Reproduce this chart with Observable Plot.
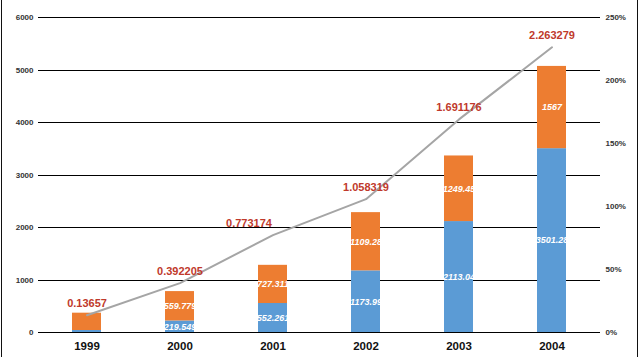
<!DOCTYPE html>
<html>
<head>
<meta charset="utf-8">
<script src="https://cdn.jsdelivr.net/npm/d3@7"></script>
<script src="https://cdn.jsdelivr.net/npm/@observablehq/plot@0.6"></script>
<style>
  body { margin: 0; background: #fff; }
  #wrap { position: relative; width: 640px; height: 357px; }
  #edge { position: absolute; left: 1px; top: 0; width: 635px; height: 357px; border-left: 1.5px solid #111; border-right: 1.5px solid #111; pointer-events: none; }
</style>
</head>
<body>
<div id="wrap"><div id="edge"></div></div>
<script>
const years = ["1999", "2000", "2001", "2002", "2003", "2004"];
const blueValues = [38, 219.549, 552.261, 1173.99, 2113.04, 3501.28];
const orangeValues = [330, 559.779, 727.311, 1109.28, 1249.45, 1567];
const blueLabels = ["", "219.549", "552.261", "1173.99", "2113.04", "3501.28"];
const orangeLabels = ["", "559.779", "727.311", "1109.28", "1249.45", "1567"];
const growth = [0.13657, 0.392205, 0.773174, 1.058319, 1.691176, 2.263279];
const growthLabels = ["0.13657", "0.392205", "0.773174", "1.058319", "1.691176", "2.263279"];
const leftTicks = [0, 1000, 2000, 3000, 4000, 5000, 6000];
const rightTicks = [0, 0.5, 1, 1.5, 2, 2.5];

const ratio = 6000 / 2.5;

const bars = [];
years.forEach((y, i) => {
  bars.push({year: y, series: "s1", value: blueValues[i], label: blueLabels[i]});
  bars.push({year: y, series: "s2", value: orangeValues[i], label: orangeLabels[i]});
});
const line = years.map((y, i) => ({year: y, v: growth[i] * ratio, label: growthLabels[i]}));

const chart = Plot.plot({
  width: 640,
  height: 357,
  marginTop: 17,
  marginBottom: 25,
  marginLeft: 38,
  marginRight: 40,
  style: {background: "transparent", fontFamily: "'Liberation Sans', Arial, sans-serif"},
  x: {type: "band", domain: years, paddingInner: 0.69, paddingOuter: 0.345, label: null},
  y: {domain: [0, 6000], label: null},
  color: {domain: ["s1", "s2"], range: ["#5b9bd5", "#ed7d31"]},
  marks: [
    Plot.ruleY(leftTicks, {stroke: "#000", strokeWidth: 1, shapeRendering: "crispEdges"}),
    Plot.axisY({ticks: leftTicks, tickFormat: d => String(d), tickSize: 0, tickPadding: 5, fontSize: 8, fontWeight: "bold", fill: "#333", label: null}),
    Plot.axisY({anchor: "right", ticks: rightTicks.map(d => d * ratio), tickFormat: d => Math.round(d / ratio * 100) + "%", tickSize: 0, tickPadding: 5, fontSize: 8, fontWeight: "bold", fill: "#333", label: null}),
    Plot.axisX({tickSize: 0, tickPadding: 9, fontSize: 11.5, fontWeight: "bold", fill: "#111", label: null}),
    Plot.barY(bars, Plot.stackY({x: "year", y: "value", fill: "series", order: null})),
    Plot.text(bars, Plot.stackY({x: "year", y: "value", z: "series", order: null, text: "label", fill: "#fff", fontSize: 9, fontStyle: "italic", fontWeight: "bold"})),
    Plot.line(line, {x: "year", y: "v", stroke: "#a5a5a5", strokeWidth: 2}),
    Plot.text(line.filter((d, i) => i !== 2), {x: "year", y: "v", text: "label", dy: -12, fill: "#c0392b", fontSize: 11, fontWeight: "bold"}),
    Plot.text(line.filter((d, i) => i === 2), {x: "year", y: "v", text: "label", dy: -12, dx: -24, fill: "#c0392b", fontSize: 11, fontWeight: "bold"})
  ]
});
document.getElementById("wrap").prepend(chart);
</script>
</body>
</html>
